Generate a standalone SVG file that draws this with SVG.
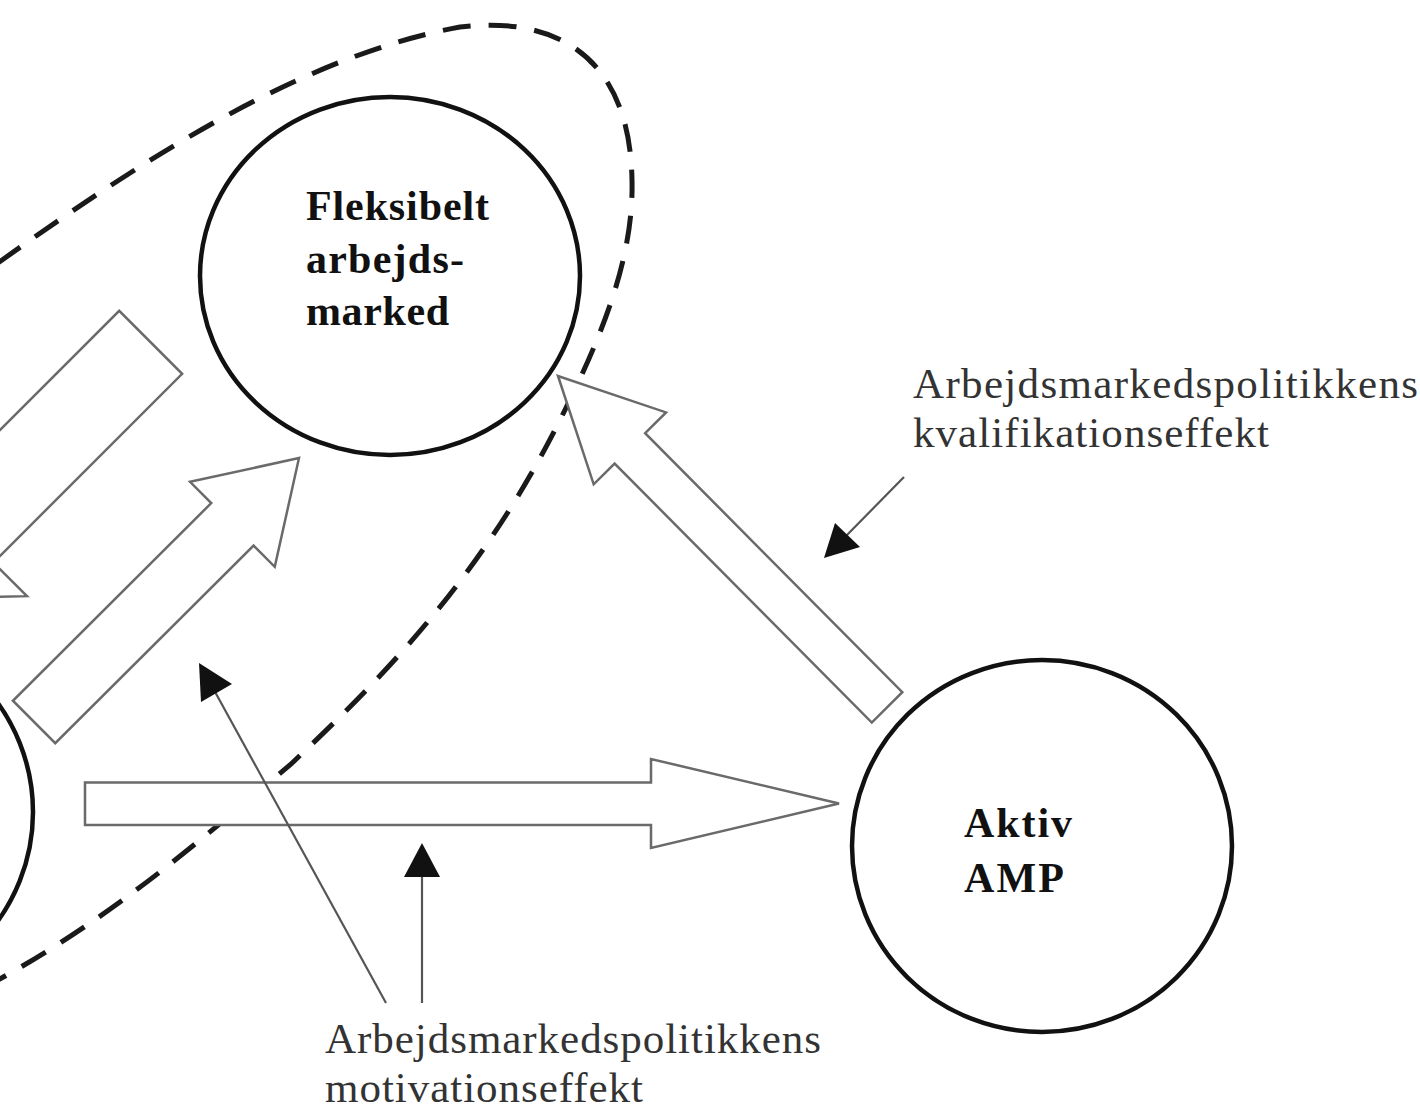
<svg xmlns="http://www.w3.org/2000/svg" width="1420" height="1110" viewBox="0 0 1420 1110">
<style>
.node{fill:none;stroke:#111;stroke-width:4.5}
.blk{fill:#fff;stroke:#6a6a6a;stroke-width:2.5;stroke-linejoin:miter}
.dash{fill:none;stroke:#1a1a1a;stroke-width:5;stroke-dasharray:28 18}
.thin{stroke:#555;stroke-width:2.2;fill:none}
.head{fill:#111;stroke:none}
.bold{font-family:"Liberation Serif","Times New Roman",serif;font-weight:bold;font-size:42px;fill:#111}
.lab{font-family:"Liberation Serif","Times New Roman",serif;font-size:43px;fill:#333}
</style>
<rect width="1420" height="1110" fill="#fff"/>
<g id="boundary">
<path class="dash" d="M -40 290 C 100 190, 280 60, 460 27 C 560 15, 630 60, 632 180 C 634 260, 600 340, 560 420 C 480 580, 380 680, 290 765 C 200 840, 100 930, -40 1000"/>
</g>
<g id="node-left">
<ellipse class="node" cx="-157" cy="812" rx="190" ry="188"/>
</g>
<g id="node-fleksibelt">
<ellipse class="node" cx="390" cy="276" rx="190" ry="179"/>
<text class="bold" x="306" y="220" textLength="183" lengthAdjust="spacing">Fleksibelt</text>
<text class="bold" x="306" y="273" textLength="158" lengthAdjust="spacing">arbejds-</text>
<text class="bold" x="306" y="325" textLength="143" lengthAdjust="spacing">marked</text>
</g>
<g id="node-aktiv">
<ellipse class="node" cx="1042" cy="846" rx="190" ry="186"/>
<text class="bold" x="964" y="837" textLength="108" lengthAdjust="spacing">Aktiv</text>
<text class="bold" x="964" y="892" textLength="100" lengthAdjust="spacing">AMP</text>
</g>
<g id="connectors">
<polygon class="blk" transform="translate(-106,599) rotate(135)" points="0,0 -96,-92 -96,-44.5 -363,-44.5 -363,44.5 -96,44.5 -96,92"/>
<polygon class="blk" transform="translate(299,458) rotate(-44.9)" points="0,0 -94,-60 -94,-30 -374,-30 -374,30 -94,30 -94,60"/>
<polygon class="blk" transform="translate(558,376) rotate(225.2)" points="0,0 -102,-51 -102,-21.5 -467,-21.5 -467,21.5 -102,21.5 -102,51"/>
<polygon class="blk" points="85,782.5 651,782.5 651,759 839,803.5 651,848 651,825 85,825"/>
<line class="thin" x1="904" y1="477" x2="846" y2="536"/>
<polygon class="head" points="824,558 835,523 860,547"/>
<line class="thin" x1="386" y1="1003" x2="214" y2="690"/>
<polygon class="head" points="199,663 232,684 201,702"/>
<line class="thin" x1="422" y1="1003" x2="422" y2="872"/>
<polygon class="head" points="422,843 440,877 404,877"/>
</g>
<g id="labels">
<text class="lab" x="913" y="398" textLength="505" lengthAdjust="spacing">Arbejdsmarkedspolitikkens</text>
<text class="lab" x="913" y="447" textLength="356" lengthAdjust="spacing">kvalifikationseffekt</text>
<text class="lab" x="325" y="1053" textLength="496" lengthAdjust="spacing">Arbejdsmarkedspolitikkens</text>
<text class="lab" x="325" y="1102" textLength="318" lengthAdjust="spacing">motivationseffekt</text>
</g>
</svg>
